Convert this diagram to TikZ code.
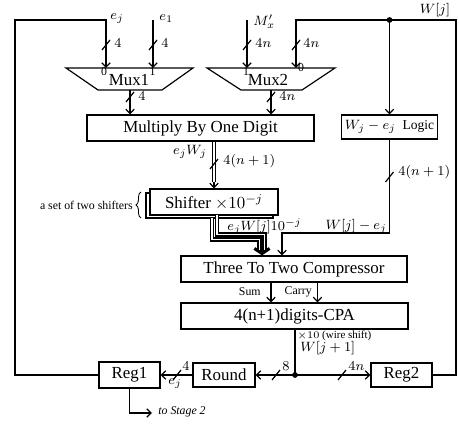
\documentclass[tikz,border=0pt]{standalone}
\usepackage{fontspec}
\setmainfont{Liberation Serif}
\usetikzlibrary{arrows.meta,decorations.pathreplacing}
\tikzset{
  wire/.style={line width=0.7pt},
  arr/.style={wire,-{Straight Barb[length=2.6pt,width=5pt]}},
  box/.style={draw,line width=0.7pt,inner sep=0pt,font=\normalsize},
  sz/.style 2 args={minimum width=#1*0.5917pt,minimum height=#2*0.5917pt},
  lbl/.style={font=\footnotesize,inner sep=0pt},
  sml/.style={font=\scriptsize,inner sep=0pt},
  dbl/.style={line width=0.65pt,double,double distance=1.1pt,line join=miter},
  bigarr/.style={line width=1.8pt,-{Straight Barb[length=3pt,width=9pt]}},
  jdot/.style={circle,fill,inner sep=0pt,minimum size=3.4pt},
  bus/.pic={\draw[line width=0.7pt] (-4,5) -- (4,-5);}
}
\begin{document}
\begin{tikzpicture}[x=0.5917pt,y=-0.5917pt]
\useasboundingbox (0,0) rectangle (459,426);

% boxes
\node[box,sz={227}{26}] (mult) at (200.5,128) {Multiply By One Digit};
\node[box,sz={96}{24},font=\footnotesize] (logic) at (389.5,127) {$W_j-e_j$\ \ Logic};
\node[box,sz={127}{25},fill=white] (shb) at (209.5,205.5) {};
\node[box,sz={128}{26},fill=white] (shf) at (214,202) {Shifter $\times10^{-j}$};
\node[box,sz={226}{26}] (comp) at (294,269) {Three To Two Compressor};
\node[box,sz={227}{26}] (cpa) at (294.5,316) {4(n+1)digits-CPA};
\node[box,sz={61}{24}] (reg2) at (401.5,375) {Reg2};
\node[box,sz={62}{24}] (round) at (224,375) {Round};
\node[box,sz={61}{26}] (reg1) at (129.5,375) {Reg1};

% muxes
\draw[wire] (66,68) -- (193,68) -- (162,90) -- (98,90) -- cycle;
\node[font=\normalsize] (mux1) at (129,80) {Mux1};
\draw[wire] (207,68) -- (335,68) -- (302,90) -- (241,90) -- cycle;
\node[font=\normalsize] (mux2) at (268,80) {Mux2};

\coordinate (m1i0) at (106,68);
\coordinate (m1i1) at (153,68);
\coordinate (m1o) at (130,90);
\coordinate (m2i1) at (247,68);
\coordinate (m2i0) at (296,68);
\coordinate (m2o) at (271,90);
\coordinate (e1s) at (153,20);
\coordinate (mxs) at (247,20);
\coordinate (wj) at (389.5,20);
\coordinate (tl) at (15,20);
\coordinate (bl) at (15,375);
\coordinate (tr) at (456,20);
\coordinate (br) at (456,375);
\coordinate (jn) at (295,375);
\coordinate (wm) at (282,233);
\coordinate (thk) at (262,246);
\coordinate (sumx) at (271,300);
\coordinate (carx) at (317.5,300);
\coordinate (st2) at (152,413);
\coordinate (sba) at (212,218);
\coordinate (sbb) at (212,239.5);
\coordinate (sbc) at (259.5,239.5);
\coordinate (sbd) at (259.5,250);
\coordinate (sfa) at (217,215);
\coordinate (sfb) at (217,234.5);
\coordinate (sfc) at (264.5,234.5);
\coordinate (sfd) at (264.5,250);

% connectors
\draw[arr] (reg1.west) -- (bl) -- (tl) -- (m1i0 |- tl) -- (m1i0);
\draw[arr] (e1s) -- (m1i1);
\draw[arr] (mxs) -- (m2i1);
\draw[arr] (wj) -- (m2i0 |- wj) -- (m2i0);
\draw[arr] (wj) -- (logic.north);
\draw[wire] (reg2.east) -- (br) -- (tr) -- (wj);
\node[jdot] at (wj) {};
\draw[arr] (m1o) -- (m1o |- mult.north);
\draw[arr] (m2o) -- (m2o |- mult.north);

\draw[dbl] (shf.north |- mult.south) -- ([yshift=3.5pt]shf.north);
\draw[arr] ([yshift=4pt]shf.north) -- (shf.north);

\draw[dbl] (sba) -- (sbb) -- (sbc) -- (sbd);
\draw[dbl] (sfa) -- (sfb) -- (sfc) -- (sfd);
\draw[bigarr] (thk) -- (thk |- comp.north);

\draw[arr] (logic.south) |- (wm) -- (wm |- comp.north);

\draw[arr] (comp.south -| sumx) -- (cpa.north -| sumx);
\draw[arr] (comp.south -| carx) -- (cpa.north -| carx);

\draw[wire] (cpa.south -| jn) -- (jn);
\draw[arr] (jn) -- (round.east);
\draw[arr] (jn) -- (reg2.west);
\node[jdot] at (jn) {};
\draw[arr] (round.west) -- (reg1.east);
\draw[arr] (reg1.south) |- (st2);

% bus marks
\pic at (106,45) {bus};
\pic at (153,45) {bus};
\pic at (247,45) {bus};
\pic at (296,45) {bus};
\pic at (130,97) {bus};
\pic at (271,97) {bus};
\pic at (214,164) {bus};
\pic at (389.5,177) {bus};
\pic at (276,375) {bus};
\pic at (342,375) {bus};
\pic at (177,375) {bus};

% labels
\node[lbl,anchor=west] at (110,19) {$e_j$};
\node[lbl,anchor=west] at (159,19) {$e_1$};
\node[lbl,anchor=west] at (253,22) {$M'_x$};
\node[lbl] at (435,10) {$W[j]$};
\node[lbl,anchor=west] at (114,43) {$4$};
\node[lbl,anchor=west] at (161,43) {$4$};
\node[lbl,anchor=west] at (255,43) {$4n$};
\node[lbl,anchor=west] at (303,43) {$4n$};
\node[sml] at (104,72) {0};
\node[sml] at (152.5,72) {1};
\node[sml] at (246,72) {1};
\node[sml] at (301,68) {0};
\node[lbl,anchor=west] at (138,96) {$4$};
\node[lbl,anchor=west] at (279,96) {$4n$};
\node[lbl,anchor=east] at (207,152) {$e_jW_j$};
\node[lbl,anchor=west] at (223,161) {$4(n+1)$};
\node[lbl,anchor=west] at (227,227) {$e_jW[j]10^{-j}$};
\node[lbl,anchor=east] at (387,226) {$W[j]-e_j$};
\node[lbl,anchor=west] at (398,172) {$4(n+1)$};
\node[sml,anchor=east] at (261,292) {Sum};
\node[sml,anchor=east] at (312,292) {Carry};
\node[anchor=west,inner sep=0pt,font=\fontsize{6.5}{7}\selectfont] at (297,335.5) {$\times10$ (wire shift)};
\node[lbl,anchor=west] at (300,348) {$W[j+1]$};
\node[lbl,anchor=west] at (282,366) {$8$};
\node[lbl,anchor=west] at (348,366) {$4n$};
\node[lbl,anchor=west] at (182,366) {$4$};
\node[lbl] at (175,384) {$e_j$};
\node[sml,anchor=west,font=\scriptsize\itshape] at (158,412) {to Stage 2};
\draw[decorate,decoration={brace,amplitude=3pt},line width=0.5pt] (141,218) -- (141,192);
\node[sml,anchor=east] at (133,205) {a set of two shifters};
\end{tikzpicture}
\end{document}
